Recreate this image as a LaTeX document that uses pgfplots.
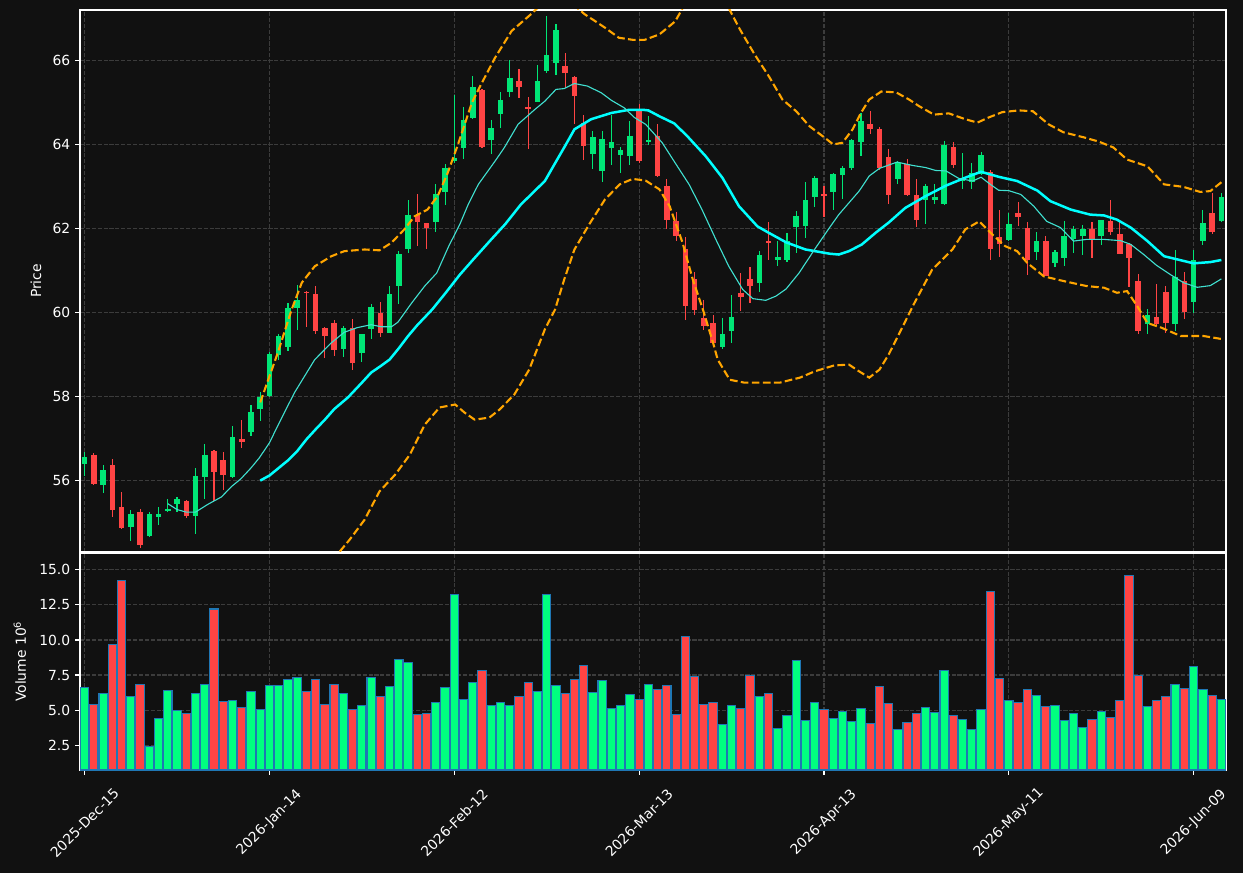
\documentclass[border=0pt]{standalone}
\usepackage{fontspec}
\setmainfont{DejaVu Sans}
\usepackage{pgfplots}
\pgfplotsset{compat=1.18}
\usepackage{pgfplotstable}

\definecolor{bg}{HTML}{111111}
\definecolor{cup}{HTML}{00E676}
\definecolor{cdn}{HTML}{FF4444}
\definecolor{vup}{HTML}{00FF80}
\definecolor{vdn}{HTML}{FF4444}
\definecolor{vedge}{HTML}{1F77B4}
\definecolor{gridc}{HTML}{3C3C3C}
\definecolor{smaten}{HTML}{40E0D0}
\definecolor{smatwenty}{HTML}{00FFFF}
\definecolor{bbc}{HTML}{FFA500}

\pgfplotstableread{
i O H L C V
0 56.39 56.67 56.12 56.56 6.60
2 55.89 56.37 55.71 56.26 6.17
5 54.89 55.29 54.56 55.21 5.96
7 54.67 55.25 54.65 55.21 2.43
8 55.14 55.38 54.94 55.21 4.39
9 55.27 55.57 55.25 55.33 6.38
10 55.44 55.60 55.25 55.55 4.96
12 55.15 56.31 54.73 56.10 6.17
13 56.08 56.86 55.56 56.62 6.81
16 56.08 57.31 56.06 57.05 5.67
18 57.15 57.81 57.06 57.64 6.31
19 57.70 58.12 57.41 57.98 5.03
20 58.01 59.05 57.98 59.02 6.74
21 59.00 59.48 58.88 59.43 6.74
22 59.17 60.23 59.08 60.12 7.16
23 60.10 60.65 59.58 60.31 7.31
28 59.12 59.69 58.94 59.64 6.17
30 59.03 59.50 58.82 59.50 5.32
31 59.60 60.21 59.37 60.14 7.31
33 59.51 60.62 59.51 60.43 6.67
34 60.63 61.46 60.21 61.40 8.58
35 61.51 62.69 61.42 62.31 8.37
38 62.15 63.06 61.92 62.83 5.53
39 62.86 63.54 62.56 63.43 6.60
40 63.60 65.17 63.55 63.68 13.27
41 63.91 64.90 63.66 64.57 5.74
42 64.63 65.62 64.60 65.38 6.95
44 64.10 64.58 63.78 64.40 5.32
45 64.72 65.25 64.40 65.05 5.53
46 65.26 66.02 65.13 65.58 5.32
49 65.00 65.90 65.00 65.50 6.31
50 65.74 67.05 65.69 66.14 13.27
51 65.93 66.86 65.65 66.72 6.74
55 63.77 64.32 63.42 64.17 6.24
56 63.36 64.32 63.11 64.12 7.09
57 63.91 64.71 63.52 64.05 5.10
58 63.75 63.95 63.31 63.88 5.32
59 63.72 64.57 63.52 64.21 6.10
61 64.08 64.67 63.98 64.10 6.81
69 59.17 59.87 59.14 59.50 3.97
70 59.55 60.41 59.28 59.90 5.32
73 60.71 61.46 60.48 61.37 5.96
75 61.24 61.70 61.10 61.31 3.68
76 61.26 61.90 61.20 61.71 4.61
77 62.03 62.41 61.42 62.29 8.51
78 62.05 63.11 61.78 62.67 4.25
79 62.75 63.25 62.51 63.21 5.53
81 62.86 63.33 62.43 63.29 4.39
82 63.27 63.48 62.71 63.43 4.89
83 63.43 64.12 63.40 64.10 4.18
84 64.05 64.75 63.72 64.55 5.10
88 63.17 63.60 63.06 63.57 3.61
91 62.67 63.05 62.10 63.02 5.18
92 62.67 63.06 62.58 62.76 4.82
93 62.58 64.08 62.55 63.98 7.80
95 63.13 63.79 62.94 63.21 4.32
96 63.10 63.55 62.94 63.31 3.61
97 63.29 63.81 63.27 63.76 5.03
100 61.72 62.36 61.70 62.10 5.67
103 61.44 61.91 61.25 61.71 6.03
105 61.17 61.48 61.08 61.45 5.32
106 61.29 62.18 61.10 61.83 4.25
107 61.76 62.07 61.42 61.98 4.75
108 61.83 62.09 61.38 61.98 3.76
110 61.81 62.19 61.61 62.19 4.89
115 59.72 60.09 59.50 59.93 5.25
118 59.72 61.50 59.55 60.85 6.81
120 60.25 61.50 59.99 61.26 8.09
121 61.71 62.43 61.61 62.12 6.45
123 62.17 62.85 62.15 62.74 5.74
}\uptab

\pgfplotstableread{
i O H L C V
1 56.61 56.66 55.90 55.93 5.39
3 56.36 56.52 55.14 55.29 9.65
4 55.36 55.73 54.85 54.88 14.27
6 55.26 55.33 54.40 54.46 6.81
11 55.52 55.55 55.12 55.15 4.75
14 56.71 56.73 55.51 56.20 12.21
15 56.50 56.69 55.78 56.13 5.60
17 56.98 57.43 56.77 56.91 5.18
24 60.50 60.52 59.66 60.46 6.31
25 60.45 60.64 59.49 59.55 7.16
26 59.64 59.66 58.91 59.44 5.39
27 59.76 59.83 58.96 59.10 6.81
29 59.63 59.85 58.63 58.79 5.03
32 60.00 60.25 59.42 59.51 5.96
36 62.33 62.83 61.58 62.15 4.68
37 62.12 62.14 61.52 62.01 4.75
43 65.29 65.32 63.92 63.95 7.80
47 65.50 65.80 65.11 65.38 5.96
48 64.90 65.14 63.90 64.86 6.95
52 65.86 66.18 65.35 65.69 6.17
53 65.60 65.62 64.49 65.15 7.16
54 64.50 64.71 63.64 63.96 8.16
60 64.83 64.97 63.56 63.60 5.74
62 64.21 64.48 63.23 63.26 6.45
63 63.02 63.17 61.98 62.21 6.74
64 62.17 62.39 61.71 61.82 4.68
65 61.50 61.80 59.82 60.15 10.22
66 60.79 60.96 59.95 60.05 7.38
67 59.87 60.31 59.58 59.67 5.39
68 59.74 59.95 59.20 59.28 5.53
71 60.47 60.94 60.03 60.36 5.10
72 60.79 61.09 60.23 60.64 7.45
74 61.70 62.15 61.26 61.67 6.17
80 62.83 63.01 62.28 62.77 5.03
85 64.48 64.79 64.25 64.36 4.04
86 64.36 64.42 63.40 63.45 6.67
87 63.71 63.90 62.59 62.79 5.46
89 63.54 63.66 62.77 62.79 4.11
90 62.79 63.18 62.04 62.21 4.75
94 63.95 64.06 63.44 63.52 4.61
98 63.34 63.40 61.26 61.52 13.48
99 61.81 62.43 61.33 61.62 7.23
101 62.36 62.64 62.05 62.28 5.53
102 62.02 62.15 60.90 61.25 6.45
104 61.71 61.83 60.86 60.86 5.25
109 61.98 62.16 61.29 61.74 4.32
111 62.17 62.67 61.85 61.91 4.47
112 61.86 62.16 61.40 61.40 5.67
113 61.62 61.65 60.60 61.29 14.62
114 60.74 60.92 59.50 59.56 7.45
116 59.90 60.68 59.70 59.72 5.67
117 60.50 60.63 59.52 59.75 5.96
119 60.74 60.96 59.85 60.01 6.52
122 62.38 62.85 61.88 61.91 6.03
}\dntab

\pgfplotstableread{
x y
19 56.00
20 56.12
21 56.30
22 56.48
23 56.70
24 56.98
25 57.22
26 57.45
27 57.70
28.5 57.98
30 58.33
31 58.57
32 58.72
33 58.88
34 59.15
35 59.44
36 59.70
37.6 60.07
39 60.45
40.6 60.90
42 61.25
44 61.74
45.5 62.10
47.2 62.57
49.8 63.13
51 63.59
52 63.97
53 64.36
54.8 64.60
57 64.75
58.8 64.82
60.6 64.82
61 64.81
62.2 64.67
63.8 64.50
65.2 64.20
67.2 63.72
69 63.21
70.8 62.53
72.8 62.05
74 61.90
75.9 61.67
78 61.50
80.6 61.40
81.6 61.38
82.7 61.46
84.1 61.62
85.6 61.90
87 62.14
88.8 62.49
91 62.77
93.2 63.02
95.3 63.21
97 63.35
98.9 63.23
100.9 63.13
103.1 62.90
104.5 62.65
106.7 62.45
108.8 62.33
110.3 62.31
111.7 62.21
113.2 62.02
115 61.70
116.8 61.34
118.3 61.26
120 61.17
121.8 61.20
123 61.25
}\smatw

\pgfplotstableread{
x y
9 55.45
10 55.31
11 55.25
12 55.25
13.3 55.43
14.8 55.61
15.9 55.86
16.9 56.04
18 56.30
18.9 56.54
20 56.90
21 57.35
22.7 58.09
24.9 58.88
26.7 59.28
28.1 59.53
29.5 59.64
31 59.71
32.1 59.66
33.2 59.66
33.9 59.77
35.4 60.23
36.8 60.63
38.1 60.94
39.4 61.58
40.6 62.10
41.5 62.57
42.6 63.05
44.4 63.60
45.4 63.92
46.9 64.48
48.7 64.83
49.8 65.03
51 65.31
51.9 65.33
53 65.45
54.4 65.39
55.9 65.23
57 65.05
58.4 64.87
59.5 64.64
60.7 64.48
62.5 64.04
63.9 63.56
65.4 63.05
66.8 62.45
68.3 61.74
69.7 61.10
71.2 60.55
72.3 60.33
73.7 60.29
74.8 60.39
75.9 60.56
77.3 60.94
79.1 61.54
80.6 62.02
81.6 62.33
83.8 62.89
84.9 63.25
86 63.43
87.9 63.58
89.6 63.50
91 63.45
92.1 63.38
93.2 63.37
94.6 63.19
96.1 63.13
97 63.22
98 63.05
98.9 62.91
100 62.90
101.3 62.81
102.7 62.53
104.1 62.17
105.6 62.02
107 61.70
108.4 61.74
110.3 61.74
112.1 61.71
113.2 61.62
114.6 61.38
116 61.12
117.5 60.90
118.9 60.71
120.4 60.60
121.8 60.64
123 60.80
}\smaten

\pgfplotstableread{
x y
19 57.86
19.5 58.17
20.9 59.04
22.4 60.07
23.5 60.71
24.9 61.10
26.7 61.34
28.1 61.46
30.3 61.50
31.9 61.48
33.2 61.66
34.6 61.98
35.7 62.29
37.1 62.45
38.2 62.77
39.3 63.33
40.4 64.00
41.9 64.99
42.9 65.43
44.4 66.06
46.2 66.70
48.3 67.10
49.5 67.35
51 67.45
52.5 67.40
54.1 67.10
56.3 66.78
57.8 66.54
59.3 66.49
60.6 66.49
62.2 66.62
63.9 66.93
64.6 67.20
66 67.80
67.5 68.10
69 67.70
69.8 67.20
70.9 66.74
72.5 66.14
74.1 65.60
75.5 65.07
77 64.79
78.4 64.44
80.2 64.14
81 64.00
82 64.04
83.1 64.36
84 64.75
84.9 65.07
86.2 65.26
87.8 65.24
89.2 65.07
90.3 64.91
91.9 64.71
93.5 64.74
95.3 64.60
96.6 64.52
97.8 64.64
99.3 64.77
101.1 64.81
102.6 64.79
104.3 64.48
105.9 64.29
108.1 64.17
109.7 64.07
111.3 63.93
112.8 63.64
115 63.48
116.8 63.05
118.9 62.99
120.7 62.87
121.8 62.89
123 63.10
}\bbup

\pgfplotstableread{
x y
19 54.14
21 53.60
23 53.10
25 53.10
26.5 53.60
27.6 54.31
28.7 54.60
30.3 55.07
31.9 55.74
33.6 56.14
35.2 56.62
36.8 57.33
38.4 57.74
40.1 57.81
41.1 57.62
42.2 57.45
43.8 57.50
44.9 57.69
46.5 58.05
48.1 58.64
49.8 59.60
50.9 60.07
51.9 60.79
53 61.50
54.6 62.10
56.3 62.69
57.9 63.05
59.3 63.18
60.7 63.14
62.2 62.93
63.3 62.53
64.7 61.66
65.8 60.79
66.9 60.07
68 59.28
68.5 58.88
69.8 58.40
71.4 58.33
73 58.33
75.2 58.33
77.4 58.45
79 58.60
81.1 58.74
82.7 58.76
83.8 58.60
84.9 58.45
86 58.64
87 59.00
88.1 59.48
89.7 60.19
91.7 61.02
93.9 61.50
95.3 61.98
96.8 62.17
98.2 61.86
99.6 61.58
100.9 61.46
102 61.18
103.8 60.86
105.9 60.75
108.4 60.63
110.3 60.59
111.7 60.47
112.8 60.51
113.9 60.15
115 59.75
116.5 59.64
118.6 59.44
121.1 59.44
123 59.37
}\bbdn

\pgfplotsset{
  darkax/.style={
    scale only axis,
    width=825.12pt,
    xmin=-0.5, xmax=123.5,
    axis background/.style={fill=bg},
    axis line style={white, line width=0.8pt},
    tick style={white, line width=0.8pt},
    tick align=outside,
    major tick length=3.5pt,
    xtick pos=bottom, ytick pos=left,
    grid=major,
    major grid style={gridc, line width=0.8pt, dash pattern=on 2.96pt off 1.28pt},
    ticklabel style={white, font=\fontsize{10}{12}\selectfont},
    label style={white, font=\fontsize{10}{12}\selectfont},
    xtick={0,20,40,60,80,100,120},
    /pgf/number format/assume math mode=true,
  },
  wick/.style={forget plot, draw=none, mark=none,
    error bars/.cd, y dir=both, y explicit, error mark=none,
    error bar style={draw=#1, line width=0.8pt}},
  body/.style={forget plot, draw=none, mark=none,
    error bars/.cd, y dir=both, y explicit, error mark=none,
    error bar style={draw=#1, line width=4pt}},
}

\begin{document}
\begin{tikzpicture}
\useasboundingbox (0,0) rectangle (894.96pt,-628.56pt);
\fill[bg] (0,0) rectangle (894.96pt,-628.56pt);

\begin{axis}[darkax,
  at={(57.6pt,-7.2pt)}, anchor=north west,
  height=390.24pt,
  ymin=54.30, ymax=67.20,
  ytick={56,58,60,62,64,66},
  xticklabels={},
  xtick style={draw=none},
  ylabel={Price},
  ylabel style={at={(axis description cs:-0.0384,0.5)}, anchor=center},
]
\addplot[wick=cup] table[x=i, y expr={(\thisrow{H}+\thisrow{L})/2}, y error expr={(\thisrow{H}-\thisrow{L})/2}] {\uptab};
\addplot[wick=cdn] table[x=i, y expr={(\thisrow{H}+\thisrow{L})/2}, y error expr={(\thisrow{H}-\thisrow{L})/2}] {\dntab};
\addplot[body=cup] table[x=i, y expr={(\thisrow{O}+\thisrow{C})/2}, y error expr={max(abs(\thisrow{C}-\thisrow{O})/2,0.02)}] {\uptab};
\addplot[body=cdn] table[x=i, y expr={(\thisrow{O}+\thisrow{C})/2}, y error expr={max(abs(\thisrow{C}-\thisrow{O})/2,0.02)}] {\dntab};
\addplot[smatwenty, line width=1.8pt, mark=none] table[x=x,y=y] {\smatw};
\addplot[smaten, line width=0.8pt, mark=none] table[x=x,y=y] {\smaten};
\addplot[bbc, line width=1.5pt, mark=none, dash pattern=on 5.55pt off 2.4pt] table[x=x,y=y] {\bbup};
\addplot[bbc, line width=1.5pt, mark=none, dash pattern=on 5.55pt off 2.4pt] table[x=x,y=y] {\bbdn};
\end{axis}

\begin{axis}[darkax,
  at={(57.6pt,-398.16pt)}, anchor=north west,
  height=156.24pt,
  ymin=0.73, ymax=16.2,
  ytick={2.5,5,7.5,10,12.5,15},
  yticklabel style={/pgf/number format/.cd, fixed, fixed zerofill, precision=1},
  xticklabels={2025-Dec-15,2026-Jan-14,2026-Feb-12,2026-Mar-13,2026-Apr-13,2026-May-11,2026-Jun-09},
  xticklabel style={anchor=center, yshift=-34.6pt, rotate=45},
  ylabel={Volume 10\textsuperscript{6}},
  ylabel style={at={(axis description cs:-0.0524,0.5)}, anchor=center},
]
\addplot[ybar, bar width=0.9, bar shift=0pt, fill=vup, draw=vedge, line width=0.8pt] table[x=i, y=V] {\uptab};
\addplot[ybar, bar width=0.9, bar shift=0pt, fill=vdn, draw=vedge, line width=0.8pt] table[x=i, y=V] {\dntab};
\end{axis}
\end{tikzpicture}
\end{document}
